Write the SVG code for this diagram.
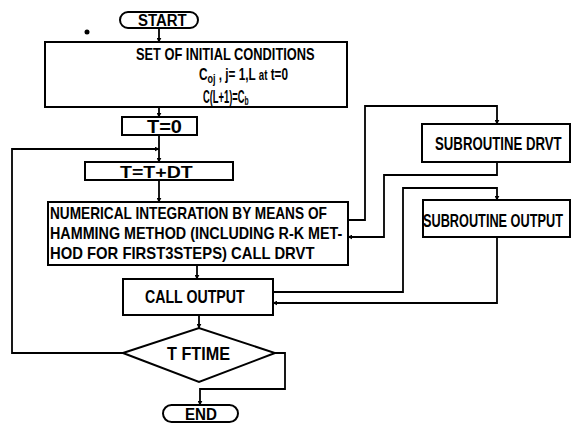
<svg xmlns="http://www.w3.org/2000/svg" width="571" height="423" viewBox="0 0 571 423">
<style>
.b{fill:#fff;stroke:#000;stroke-width:2}
.t{font-family:"Liberation Sans","DejaVu Sans",sans-serif;font-weight:bold;fill:#000}
.c{fill:none;stroke:#000;stroke-width:1.8}
</style>
<defs>
<marker id="a" viewBox="0 0 8 8" refX="7" refY="4" markerWidth="5" markerHeight="5" orient="auto" markerUnits="userSpaceOnUse">
<path d="M0,0 L8,4 L0,8 z" fill="#000"/>
</marker>
</defs>
<rect width="571" height="423" fill="#fff"/>
<circle cx="87" cy="32" r="2.5" fill="#000"/>
<g id="start">
<rect class="b" x="120" y="12" width="78" height="16" rx="8"/>
<text class="t" font-size="17" transform="translate(138,26) scale(0.88,1)">START</text>
</g>
<g id="init">
<rect class="b" x="45" y="42" width="302" height="65"/>
<text class="t" font-size="17" transform="translate(136,60) scale(0.755,1)">SET OF INITIAL CONDITIONS</text>
<text class="t" font-size="17" transform="translate(199,80) scale(0.693,1)">C<tspan font-size="13" dy="3">oj</tspan><tspan dy="-3"> , j= 1,L </tspan><tspan font-size="14">at</tspan> t=0</text>
<text class="t" font-size="18" transform="translate(203,103) scale(0.52,1)">C(L+1)=C<tspan font-size="13" dy="2">b</tspan></text>
</g>
<g id="t0">
<rect class="b" x="122" y="117" width="75" height="18"/>
<text class="t" font-size="18" transform="translate(147,133) scale(1.11,1)">T=0</text>
</g>
<g id="tdt">
<rect class="b" x="85" y="162" width="148" height="18"/>
<text class="t" font-size="17" transform="translate(120,177.5) scale(1.15,1)">T=T+DT</text>
</g>
<g id="numint">
<rect class="b" x="48" y="202" width="300" height="63"/>
<text class="t" font-size="17" transform="translate(50,219) scale(0.804,1)">NUMERICAL  INTEGRATION BY  MEANS OF</text>
<text class="t" font-size="17" transform="translate(50,239) scale(0.844,1)">HAMMING METHOD (INCLUDING R-K MET-</text>
<text class="t" font-size="17" transform="translate(50,259) scale(0.872,1)">HOD FOR FIRST3STEPS) CALL DRVT</text>
</g>
<g id="calloutput">
<rect class="b" x="123" y="279" width="150" height="36"/>
<text class="t" font-size="19" transform="translate(145,303) scale(0.746,1)">CALL OUTPUT</text>
</g>
<g id="ftime">
<polygon class="b" points="123,353 199,328 275,353 199,382"/>
<text class="t" font-size="19" transform="translate(167,360) scale(0.853,1)">T FTIME</text>
</g>
<g id="end">
<rect class="b" x="163" y="405" width="75" height="17" rx="8.5"/>
<text class="t" font-size="16" transform="translate(185,420) scale(0.947,1)">END</text>
</g>
<g id="drvt">
<rect class="b" x="422" y="124" width="148" height="38"/>
<text class="t" font-size="19" transform="translate(435,150) scale(0.695,1)">SUBROUTINE DRVT</text>
</g>
<g id="output">
<rect class="b" x="423" y="200" width="147" height="37"/>
<text class="t" font-size="19" transform="translate(423,227) scale(0.67,1)">SUBROUTINE OUTPUT</text>
</g>
<g id="connectors">
<path class="c" d="M159,28 V42" marker-end="url(#a)"/>
<path class="c" d="M159,107 V117" marker-end="url(#a)"/>
<path class="c" d="M159,135 V162" marker-end="url(#a)"/>
<path class="c" d="M123,353 H12 V149 H159" marker-end="url(#a)"/>
<path class="c" d="M159,180 V202" marker-end="url(#a)"/>
<path class="c" d="M197,265 V279" marker-end="url(#a)"/>
<path class="c" d="M199,315 V328" marker-end="url(#a)"/>
<path class="c" d="M275,353 H285 V389 H200 V405" marker-end="url(#a)"/>
<path class="c" d="M348,220 H365 V106 H497 V124" marker-end="url(#a)"/>
<path class="c" d="M497,162 V175 H384 V237 H348" marker-end="url(#a)"/>
<path class="c" d="M273,292 H403 V188 H497 V200" marker-end="url(#a)"/>
<path class="c" d="M497,237 V303 H273" marker-end="url(#a)"/>
</g>
</svg>
